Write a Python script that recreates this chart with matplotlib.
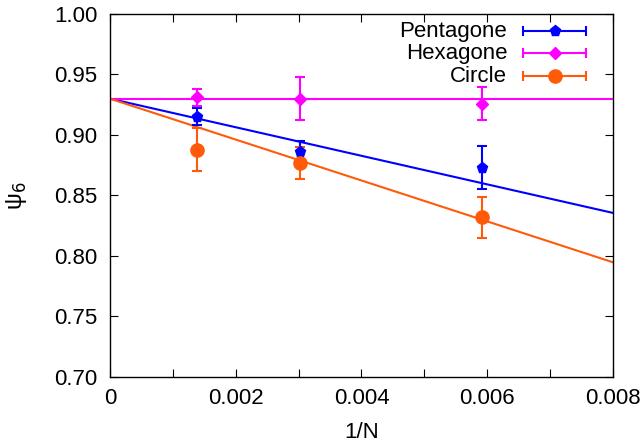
import numpy as np
import matplotlib.pyplot as plt
from matplotlib.ticker import MultipleLocator

plt.rcParams['font.family'] = ['Liberation Sans', 'DejaVu Sans']
plt.rcParams['mathtext.fontset'] = 'dejavusans'

# inverse system size for the three runs
inv_n = [0.00138, 0.00302, 0.00592]

pent = [0.915, 0.886, 0.873]
pent_err = [0.007, 0.009, 0.018]
hexa = [0.931, 0.930, 0.926]
hexa_err = [0.007, 0.018, 0.014]
circ = [0.888, 0.877, 0.832]
circ_err = [0.018, 0.013, 0.017]

# linear extrapolations psi6(1/N) = a + b/N
fit_a = [0.930, 0.930, 0.930]
fit_b = [-11.8, 0.0, -16.9]

names = ['Pentagone', 'Hexagone', 'Circle']
colors = ['#0000ff', '#ff00ff', '#ff5a0a']
markers = ['p', 'D', 'o']
msizes = [8, 6, 9.5]

fig = plt.figure(figsize=(6.43, 4.47), dpi=100)
ax = fig.add_axes([0.1711, 0.1566, 0.7822, 0.8121])

xfit = np.array([0.0, 0.008])
series = [(pent, pent_err), (hexa, hexa_err), (circ, circ_err)]
for i, (y, e) in enumerate(series):
    ax.plot(xfit, fit_a[i] + fit_b[i] * xfit, color=colors[i], lw=1.5, zorder=2)
    ax.errorbar(inv_n, y, yerr=e, fmt=markers[i], color=colors[i], ms=msizes[i],
                elinewidth=1.5, capsize=3.5, capthick=1.5, zorder=3)

# gnuplot-like key: label on the left, sample on the right
key_y = [0.953, 0.892, 0.829]
for i in range(3):
    ax.text(0.79, key_y[i], names[i], transform=ax.transAxes, ha='right',
            va='center', fontsize=16)
    ax.errorbar([0.884], [key_y[i]], xerr=[0.062], transform=ax.transAxes,
                fmt=markers[i], color=colors[i], ms=msizes[i], elinewidth=1.5,
                capsize=3.5, capthick=1.5, clip_on=False)

ax.set_xlim(0, 0.008)
ax.set_ylim(0.70, 1.00)
ax.xaxis.set_major_locator(MultipleLocator(0.002))
ax.xaxis.set_minor_locator(MultipleLocator(0.001))
ax.yaxis.set_major_locator(MultipleLocator(0.05))
ax.xaxis.set_major_formatter(lambda v, p: '0' if v == 0 else f'{v:.3f}')
ax.yaxis.set_major_formatter(lambda v, p: f'{v:.2f}')
ax.tick_params(which='both', direction='in', top=True, right=True,
               length=6, width=0.8, labelsize=16)
ax.tick_params(axis='x', pad=8)
ax.tick_params(axis='y', pad=9)
for s in ax.spines.values():
    s.set_linewidth(1.0)

ax.set_xlabel('1/N', fontsize=16, labelpad=9)
ax.set_ylabel('ψ$_6$', fontsize=17, labelpad=18)

fig.savefig('out.png', dpi=100)
